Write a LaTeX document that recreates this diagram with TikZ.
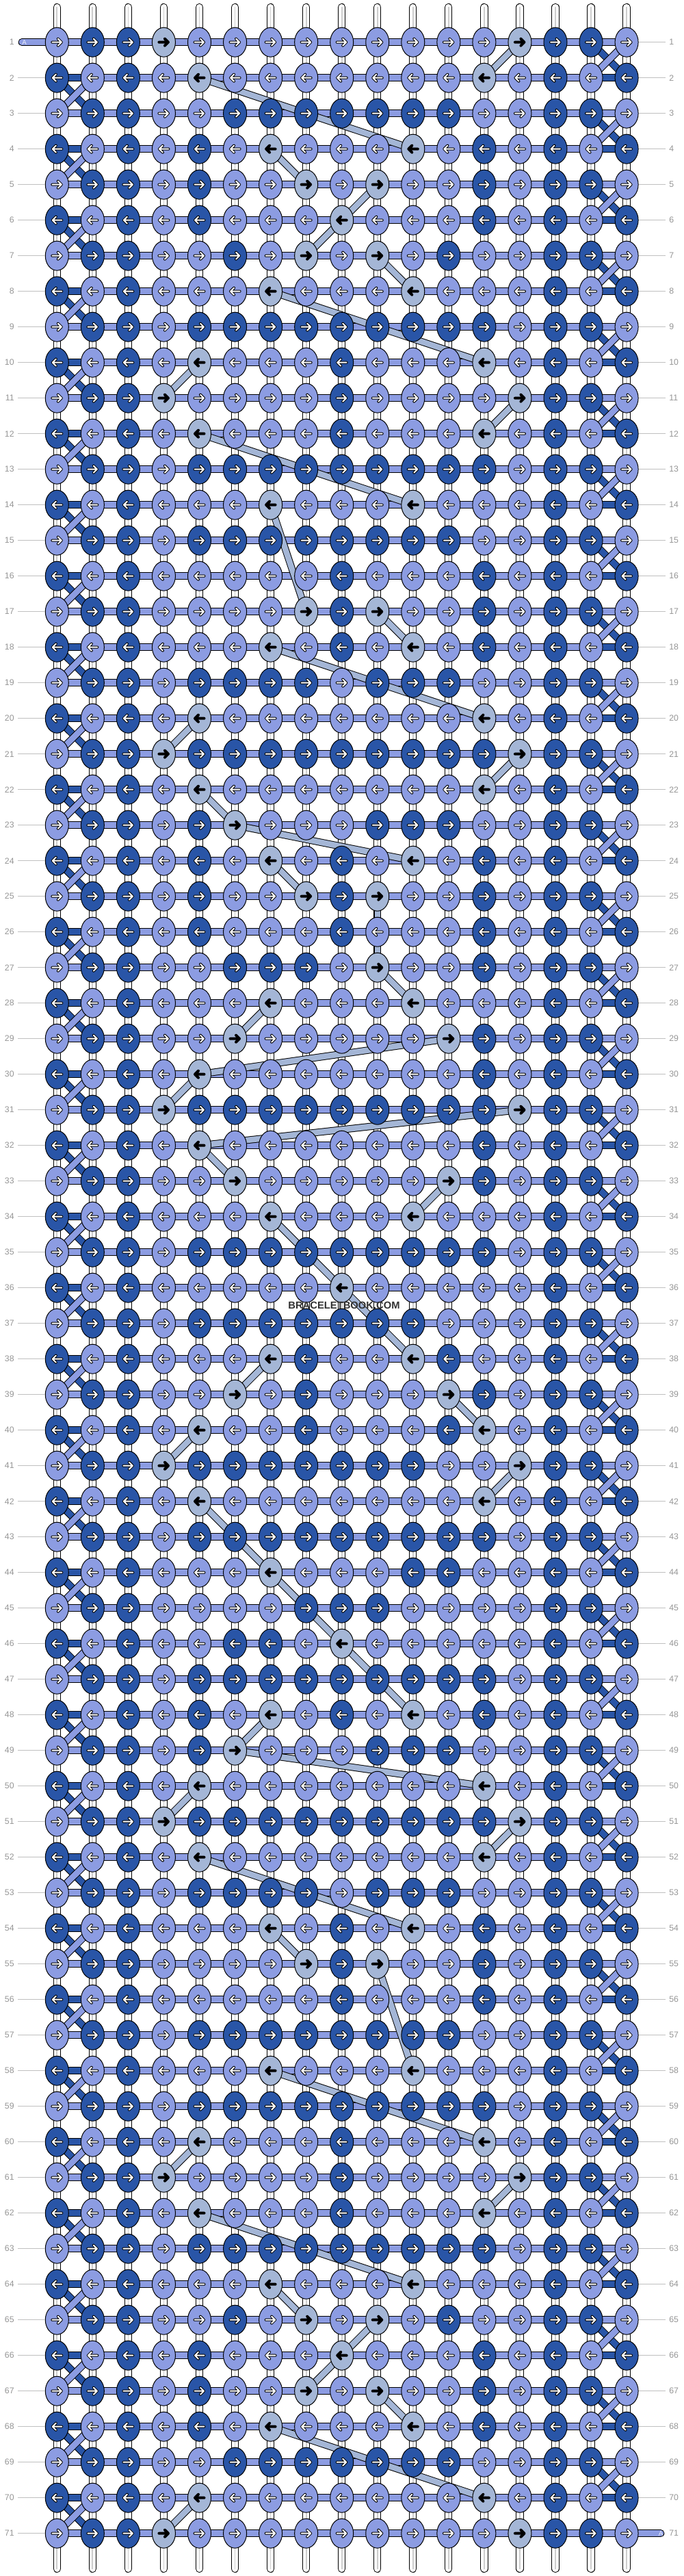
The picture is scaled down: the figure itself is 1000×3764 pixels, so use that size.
\documentclass[tikz,border=0pt]{standalone}
\usepackage{fontspec}
\setmainfont{Liberation Sans}
\usetikzlibrary{shapes.geometric}

\definecolor{knotL}{RGB}{140,156,226}
\definecolor{knotD}{RGB}{41,85,167}
\definecolor{knotG}{RGB}{164,182,214}
\colorlet{tipL}{white}
\colorlet{tipD}{white}
\colorlet{tipG}{black}
\definecolor{labgrey}{RGB}{150,150,150}
\definecolor{linegrey}{RGB}{192,192,192}
\definecolor{tubegrey}{RGB}{205,205,205}
\definecolor{markgrey}{RGB}{50,50,50}

\pgfdeclarelayer{paper}
\pgfdeclarelayer{strings}
\pgfsetlayers{paper,strings,main}

\tikzset{
  knot/.style={ellipse, draw=black, line width=0.2mm, minimum width=6.8mm, minimum height=8.6mm, inner sep=0pt},
  tipback/.style={draw=black, line width=0.8mm, line cap=round, line join=round},
  tipfront/.style={line width=0.4mm, line cap=round, line join=round},
  tube/.style={draw=black, line width=0.2mm, double=white, double distance=1.85mm, line cap=round},
  tubecore/.style={draw=tubegrey, line width=0.35mm, line cap=round},
  bar/.style={draw=black, line width=0.2mm, double=knot#1, double distance=1.75mm},
  band/.style={draw=black, line width=0.2mm, double=knotG, double distance=1.7mm},
  rowlabel/.style={text=labgrey, font=\fontsize{7pt}{8pt}\selectfont, inner sep=0pt},
  rowline/.style={draw=linegrey, line width=0.2mm},
}

\begin{document}
\begin{tikzpicture}[x=0.2mm, y=-0.2mm]
\useasboundingbox (0,0) rectangle (1000,3764);
\begin{pgfonlayer}{paper}
  \fill[white] (0,0) rectangle (1000,3764);
\end{pgfonlayer}

% knots, row by row
\foreach \pat [count=\r] in {
  {L,D,D,G,L,L,L,L,L,L,L,L,L,G,D,D,L},
  {D,L,D,L,G,L,L,L,L,L,L,L,G,L,D,L,D},
  {L,D,D,L,L,D,D,D,D,D,D,D,L,L,D,D,L},
  {D,L,D,L,D,L,G,L,L,L,G,L,D,L,D,L,D},
  {L,D,D,L,D,L,L,G,L,G,L,L,D,L,D,D,L},
  {D,L,D,L,D,L,L,L,G,L,L,L,D,L,D,L,D},
  {L,D,D,L,L,D,L,G,L,G,L,D,L,L,D,D,L},
  {D,L,D,L,L,L,G,L,L,L,G,L,L,L,D,L,D},
  {L,D,D,L,D,D,D,D,D,D,D,D,D,L,D,D,L},
  {D,L,D,L,G,L,L,L,D,L,L,L,G,L,D,L,D},
  {L,D,D,G,L,L,L,L,D,L,L,L,L,G,D,D,L},
  {D,L,D,L,G,L,L,L,D,L,L,L,G,L,D,L,D},
  {L,D,D,L,D,D,D,D,D,D,D,D,D,L,D,D,L},
  {D,L,D,L,L,L,G,L,L,L,G,L,L,L,D,L,D},
  {L,D,D,L,D,D,D,D,D,D,D,D,L,L,D,D,L},
  {D,L,D,L,L,L,L,L,D,L,L,L,D,L,D,L,D},
  {L,D,D,L,L,L,L,G,D,G,L,L,D,L,D,D,L},
  {D,L,D,L,L,L,G,L,D,L,G,L,D,L,D,L,D},
  {L,D,D,L,D,D,D,D,L,D,D,D,L,L,D,D,L},
  {D,L,D,L,G,L,L,L,L,L,L,L,G,L,D,L,D},
  {L,D,D,G,D,D,D,D,D,D,D,D,D,G,D,D,L},
  {D,L,D,L,G,L,L,L,L,L,L,L,G,L,D,L,D},
  {L,D,D,L,D,G,L,L,L,D,D,D,L,L,D,D,L},
  {D,L,D,L,D,L,G,L,D,L,G,L,D,L,D,L,D},
  {L,D,D,L,D,L,L,G,D,G,L,L,D,L,D,D,L},
  {D,L,D,L,D,L,L,L,D,L,L,L,D,L,D,L,D},
  {L,D,D,L,L,D,D,D,L,G,L,L,D,L,D,D,L},
  {D,L,D,L,L,L,G,L,L,L,G,L,L,L,D,L,D},
  {L,D,D,L,L,G,L,L,L,L,L,G,D,L,D,D,L},
  {D,L,D,L,G,L,L,L,L,L,L,L,D,L,D,L,D},
  {L,D,D,G,D,D,D,D,D,D,D,D,D,G,D,D,L},
  {D,L,D,L,G,L,L,L,L,L,L,L,D,L,D,L,D},
  {L,D,D,L,L,G,L,L,L,L,L,G,D,L,D,D,L},
  {D,L,D,L,L,L,G,L,L,L,G,L,L,L,D,L,D},
  {L,D,D,L,D,D,D,D,D,D,D,D,D,L,D,D,L},
  {D,L,D,L,L,L,L,L,G,L,L,L,L,L,D,L,D},
  {L,D,D,L,D,D,D,D,D,D,D,L,L,L,D,D,L},
  {D,L,D,L,L,L,G,D,L,L,G,D,L,L,D,L,D},
  {L,D,D,L,L,G,L,D,L,L,L,G,D,L,D,D,L},
  {D,L,D,L,G,L,L,D,L,L,L,D,G,L,D,L,D},
  {L,D,D,G,D,D,D,D,D,D,D,L,L,G,D,D,L},
  {D,L,D,L,G,L,L,L,L,L,L,L,G,L,D,L,D},
  {L,D,D,L,D,D,D,D,D,D,D,D,D,L,D,D,L},
  {D,L,D,L,L,L,G,L,L,L,D,D,L,L,D,L,D},
  {L,D,D,L,L,L,L,D,D,D,L,L,L,L,D,D,L},
  {D,L,D,L,L,D,D,L,G,L,L,L,L,L,D,L,D},
  {L,D,D,L,D,D,D,D,D,D,D,D,D,L,D,D,L},
  {D,L,D,L,D,L,G,L,D,L,G,L,D,L,D,L,D},
  {L,D,D,L,D,G,L,L,L,D,D,D,L,L,D,D,L},
  {D,L,D,L,G,L,L,L,L,L,L,L,G,L,D,L,D},
  {L,D,D,G,D,D,D,D,D,D,D,D,D,G,D,D,L},
  {D,L,D,L,G,L,L,L,L,L,L,L,G,L,D,L,D},
  {L,D,D,L,D,D,D,D,L,D,D,D,L,L,D,D,L},
  {D,L,D,L,L,L,G,L,D,L,G,L,D,L,D,L,D},
  {L,D,D,L,L,L,L,G,D,G,L,L,D,L,D,D,L},
  {D,L,D,L,L,L,L,L,D,L,L,L,D,L,D,L,D},
  {L,D,D,L,D,D,D,D,D,D,D,D,L,L,D,D,L},
  {D,L,D,L,L,L,G,L,L,L,G,L,L,L,D,L,D},
  {L,D,D,L,D,D,D,D,D,D,D,D,D,L,D,D,L},
  {D,L,D,L,G,L,L,L,D,L,L,L,G,L,D,L,D},
  {L,D,D,G,L,L,L,L,D,L,L,L,L,G,D,D,L},
  {D,L,D,L,G,L,L,L,D,L,L,L,G,L,D,L,D},
  {L,D,D,L,D,D,D,D,D,D,D,D,D,L,D,D,L},
  {D,L,D,L,L,L,G,L,L,L,G,L,L,L,D,L,D},
  {L,D,D,L,L,D,L,G,L,G,L,D,L,L,D,D,L},
  {D,L,D,L,D,L,L,L,G,L,L,L,D,L,D,L,D},
  {L,D,D,L,D,L,L,G,L,G,L,L,D,L,D,D,L},
  {D,L,D,L,D,L,G,L,L,L,G,L,D,L,D,L,D},
  {L,D,D,L,L,D,D,D,D,D,D,D,L,L,D,D,L},
  {D,L,D,L,G,L,L,L,L,L,L,L,G,L,D,L,D},
  {L,D,D,G,L,L,L,L,L,L,L,L,L,G,D,D,L}}{
  \pgfmathsetmacro\y{61.7+52*(\r-1)}
  \pgfmathsetmacro\s{2*mod(\r,2)-1}
  \foreach \k [count=\c] in \pat {
    \pgfmathsetmacro\x{83.3+52.05*(\c-1)}
    \pgfmathsetmacro\xa{\x-7*\s}
    \pgfmathsetmacro\xb{\x+6.5*\s}
    \pgfmathsetmacro\xc{\x+1.5*\s}
    \node[knot, fill=knot\k] (k-\r-\c) at (\x,\y) {};
    \draw[tipback] (\xa,\y) -- (\xb,\y) (\xc,\y-5) -- (\xb,\y) -- (\xc,\y+5);
    \draw[tipfront, draw=tip\k] (\xa,\y) -- (\xb,\y) (\xc,\y-5) -- (\xb,\y) -- (\xc,\y+5);
  }
  \node[rowlabel, anchor=east] (ll-\r) at (21,\y) {\r};
  \node[rowlabel, anchor=west] (rl-\r) at (978,\y) {\r};
}

% row lines
\foreach \r in {2,...,71}
  \draw[rowline, shorten <=1mm] (ll-\r) -- (k-\r-1);
\foreach \r in {1,...,70}
  \draw[rowline, shorten <=1mm] (rl-\r) -- (k-\r-17);

\begin{pgfonlayer}{strings}
  % vertical strings
  \foreach \c in {1,...,17}{
    \pgfmathsetmacro\x{83.3+52.05*(\c-1)}
    \coordinate (top-\c) at (\x,10.5);
    \coordinate (bot-\c) at (\x,3753.5);
    \draw[tube] (top-\c) -- (bot-\c);
    \draw[tubecore] (top-\c) -- (bot-\c);
  }
  % knotting rows
  \foreach \r in {1,...,71}
    \draw[bar=L] (k-\r-1.center) -- (k-\r-17.center);
  \foreach \r in {2,4,...,70}{
    \draw[bar=D] (k-\r-1.center) -- (k-\r-2.center);
    \draw[bar=D] (k-\r-16.center) -- (k-\r-17.center);
  }
  % turns at the edges
  \foreach \n in {1,...,35}{
    \pgfmathtruncatemacro\ra{2*\n}
    \pgfmathtruncatemacro\rb{2*\n+1}
    \pgfmathtruncatemacro\rc{2*\n-1}
    \draw[bar=D] (k-\ra-1.center) -- (k-\rb-2.center);
    \draw[bar=L] (k-\ra-2.center) -- (k-\rb-1.center);
    \draw[bar=D] (k-\rc-16.center) -- (k-\ra-17.center);
    \draw[bar=L] (k-\rc-17.center) -- (k-\ra-16.center);
  }
  % grey string carried behind
  \foreach \a/\b in {1-14/2-13, 2-5/4-11, 4-7/5-8, 5-10/6-9, 6-9/7-8, 7-10/8-11,
      8-7/10-13, 10-5/11-4, 11-14/12-13, 12-5/14-11, 14-7/17-8, 17-10/18-11,
      18-7/20-13, 20-5/21-4, 21-14/22-13, 22-5/23-6, 23-6/24-11, 24-7/25-8,
      25-10/27-10, 27-10/28-11, 28-7/29-6, 29-12/30-5, 30-5/31-4, 31-14/32-5,
      32-5/33-6, 33-12/34-11, 34-7/36-9, 36-9/38-11, 38-7/39-6, 39-12/40-13,
      40-5/41-4, 41-14/42-13, 42-5/44-7, 44-7/46-9, 46-9/48-11, 48-7/49-6,
      49-6/50-13, 50-5/51-4, 51-14/52-13, 52-5/54-11, 54-7/55-8, 55-10/58-11,
      58-7/60-13, 60-5/61-4, 61-14/62-13, 62-5/64-11, 64-7/65-8, 65-10/66-9,
      66-9/67-8, 67-10/68-11, 68-7/70-13, 70-5/71-4}
    \draw[band] (k-\a.center) -- (k-\b.center);
  % string A
  \coordinate (tail-in) at (32,61.7);
  \coordinate (tail-out) at (966,3701.7);
  \draw[bar=L, line cap=round] (tail-in) -- (k-1-1.center);
  \draw[bar=L, line cap=round] (k-71-17.center) -- (tail-out);
\end{pgfonlayer}

\node[text=white!85!knotL, font=\fontsize{5.5pt}{6pt}\selectfont, inner sep=0pt] (tag-in) at (35.5,61.7) {A};
\node[text=white!85!knotL, font=\fontsize{5.5pt}{6pt}\selectfont, inner sep=0pt] (tag-out) at (966,3701.7) {A};

\node[text=markgrey, font=\fontsize{8.4pt}{9pt}\selectfont\bfseries, inner sep=0pt] (mark) at (503,1907) {BRACELETBOOK.COM};
\end{tikzpicture}
\end{document}
